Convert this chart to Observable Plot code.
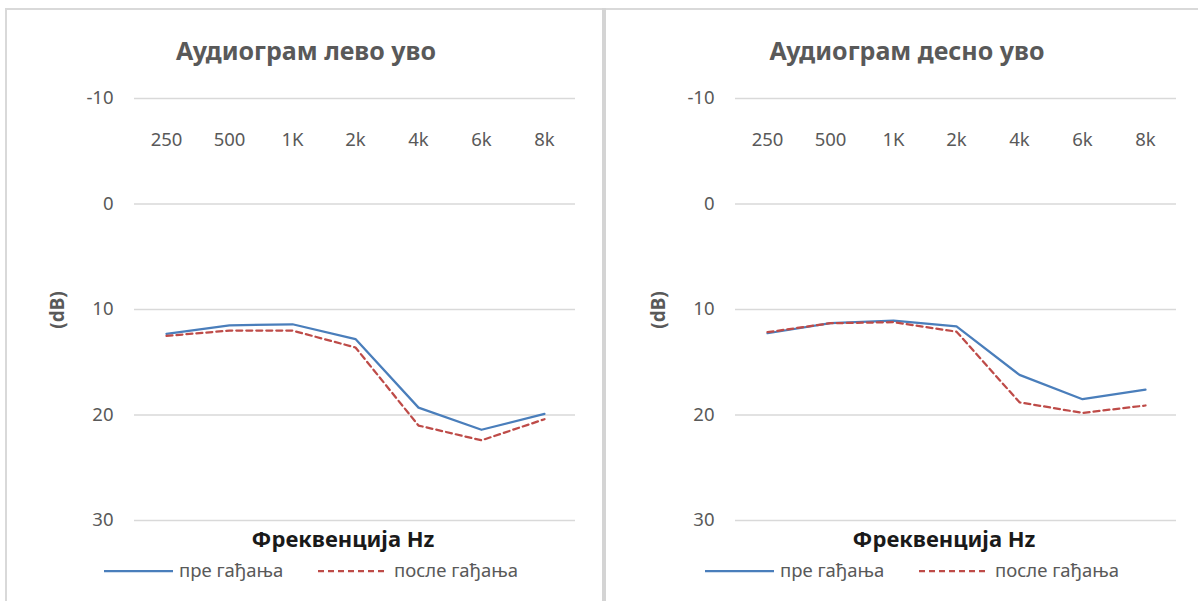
<!DOCTYPE html>
<html>
<head>
<meta charset="utf-8">
<script src="https://cdn.jsdelivr.net/npm/d3@7"></script>
<script src="https://cdn.jsdelivr.net/npm/@observablehq/plot@0.6"></script>
<style>
  html, body { margin: 0; padding: 0; background: #fff; }
  #root { position: relative; width: 1198px; height: 601px; overflow: hidden; font-family: "Noto Sans", "Open Sans", sans-serif; }
  .abs { position: absolute; }
  .title { font-weight: bold; font-size: 25px; color: #595959; text-align: center; width: 400px; line-height: 30px; white-space: nowrap; }
  .xtitle { font-weight: bold; font-size: 22px; color: #1a1a1a; text-align: center; width: 300px; line-height: 26px; white-space: nowrap; }
  .ylab { font-weight: bold; font-size: 19px; color: #595959; transform: rotate(-90deg); transform-origin: center; width: 60px; text-align: center; line-height: 22px; }
  .leg { font-size: 18.5px; color: #595959; line-height: 22px; white-space: nowrap; }
</style>
</head>
<body>
<div id="root"></div>
<script>
// ---- data ----
const freqs = ["250", "500", "1K", "2k", "4k", "6k", "8k"];
const yTicks = [-10, 0, 10, 20, 30];
const leftPre  = [12.3, 11.5, 11.4, 12.8, 19.3, 21.4, 19.9];
const leftPost = [12.5, 12.0, 12.0, 13.6, 21.0, 22.4, 20.4];
const rightPre  = [12.25, 11.3, 11.05, 11.6, 16.2, 18.5, 17.6];
const rightPost = [12.15, 11.3, 11.2, 12.1, 18.8, 19.8, 19.1];
const seriesNames = ["пре гађања", "после гађања"];
const titles = ["Аудиограм лево уво", "Аудиограм десно уво"];
const xTitle = "Фреквенција Hz";
const yTitle = "(dB)";

const BLUE = "#4a7ebb";
const RED = "#be4b48";

const root = document.getElementById("root");

function addDiv(cls, text, styles) {
  const d = document.createElement("div");
  d.className = "abs " + cls;
  if (text != null) d.textContent = text;
  Object.assign(d.style, styles);
  root.appendChild(d);
  return d;
}

// panel frame lines
addDiv("", null, {left: "5px", top: "8px", width: "1193px", height: "2px", background: "#d9d9d9"});
addDiv("", null, {left: "5px", top: "8px", width: "2px", height: "593px", background: "#d9d9d9"});
addDiv("", null, {left: "602px", top: "8px", width: "4px", height: "593px", background: "#d4d4d4"});

function panel(ox, svgW, title, pre, post) {
  const rows = [];
  freqs.forEach((f, i) => {
    rows.push({f, v: pre[i], s: seriesNames[0]});
    rows.push({f, v: post[i], s: seriesNames[1]});
  });
  const chart = Plot.plot({
    width: svgW,
    height: 593,
    marginLeft: 129,
    marginRight: svgW - 129 - 441,
    marginTop: 90,
    marginBottom: 81,
    style: {fontFamily: "'Noto Sans', 'Open Sans', sans-serif", fontSize: "18.5px", color: "#595959", background: "transparent", overflow: "visible"},
    x: {type: "point", domain: freqs, padding: 0.5},
    y: {domain: [-10, 30], reverse: true},
    marks: [
      Plot.gridY(yTicks, {stroke: "#d9d9d9", strokeOpacity: 1, strokeWidth: 1.5}),
      Plot.axisY(yTicks, {tickSize: 0, tickPadding: 21, label: null, fill: "#595959", tickFormat: d => String(d)}),
      Plot.axisX({anchor: "top", tickSize: 0, tickPadding: -42, lineAnchor: "middle", label: null, fill: "#595959"}),
      Plot.line(rows.filter(d => d.s === seriesNames[0]), {x: "f", y: "v", stroke: BLUE, strokeWidth: 2.25}),
      Plot.line(rows.filter(d => d.s === seriesNames[1]), {x: "f", y: "v", stroke: RED, strokeWidth: 2.25, strokeDasharray: "6,4"})
    ]
  });
  chart.classList.add("abs");
  chart.style.left = ox + "px";
  chart.style.top = "8px";
  root.appendChild(chart);

  const dx = ox - 5;
  addDiv("title", title, {left: (306 + dx - 200) + "px", top: "35px"});
  addDiv("xtitle", xTitle, {left: (343 + dx - 150) + "px", top: "525px"});
  addDiv("ylab", yTitle, {left: (57 + dx - 30) + "px", top: "299px"});

  // legend
  const legY = 571;
  const mk = (x, color, dash) => {
    const s = document.createElementNS("http://www.w3.org/2000/svg", "svg");
    s.setAttribute("width", 70); s.setAttribute("height", 6);
    s.style.position = "absolute";
    s.style.left = x + "px"; s.style.top = (legY - 3) + "px";
    const l = document.createElementNS("http://www.w3.org/2000/svg", "line");
    l.setAttribute("x1", 0); l.setAttribute("x2", 69); l.setAttribute("y1", 3); l.setAttribute("y2", 3);
    l.setAttribute("stroke", color); l.setAttribute("stroke-width", 2.25);
    if (dash) l.setAttribute("stroke-dasharray", dash);
    s.appendChild(l);
    root.appendChild(s);
  };
  mk(104 + dx, BLUE, null);
  addDiv("leg", seriesNames[0], {left: (179 + dx) + "px", top: (legY - 12) + "px"});
  mk(318 + dx, RED, "6,4");
  addDiv("leg", seriesNames[1], {left: (394 + dx) + "px", top: (legY - 12) + "px"});
}

panel(5, 598, titles[0], leftPre, leftPost);
panel(606, 592, titles[1], rightPre, rightPost);
</script>
</body>
</html>
